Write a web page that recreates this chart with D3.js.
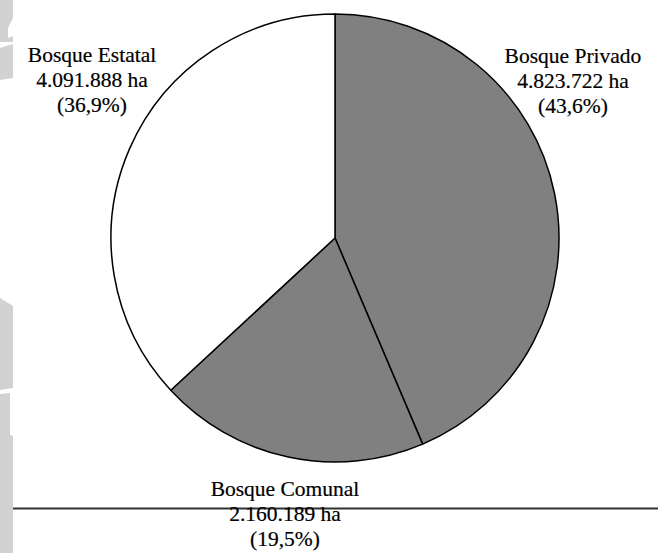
<!DOCTYPE html>
<html>
<head>
<meta charset="utf-8">
<script src="https://cdn.jsdelivr.net/npm/d3@7"></script>
<style>
  body { margin: 0; background: #fff; }
  svg { display: block; }
</style>
</head>
<body>
<div id="chart"></div>
<script>
// data
var categories = ['Bosque Privado', 'Bosque Comunal', 'Bosque Estatal'];
var hectares = ['4.823.722', '2.160.189', '4.091.888'];
var percents = [43.6, 19.5, 36.9];
var fills = ['#808080', '#808080', '#ffffff'];

var width = 658, height = 553;
var cx = 335, cy = 238, r = 224;

var svg = d3.select('#chart').append('svg')
  .attr('width', width)
  .attr('height', height);

// light grey scan marks on the left edge
var marks = [
  [[0,0],[13,0],[13,18],[8,28],[8,38],[13,36],[13,42],[0,42]],
  [[0,48],[13,44],[13,78],[0,80]],
  [[0,298],[13,306],[13,388],[0,390]],
  [[0,394],[10,393],[10,435],[13,436],[13,553],[0,553]]
];
svg.selectAll('polygon.mark')
  .data(marks)
  .enter()
  .append('polygon')
  .attr('class', 'mark')
  .attr('points', function(d){ return d.map(function(p){ return p.join(','); }).join(' '); })
  .attr('fill', '#d2d2d2');

var pie = d3.pie().sort(null).value(function(d){ return d; });
var arc = d3.arc().innerRadius(0).outerRadius(r);

var slices = svg.append('g')
  .attr('transform', 'translate(' + cx + ',' + cy + ')')
  .selectAll('path')
  .data(pie(percents))
  .enter()
  .append('path')
  .attr('d', arc)
  .attr('fill', function(d, i){ return fills[i]; })
  .attr('stroke', '#000')
  .attr('stroke-width', 1.5)
  .attr('stroke-linejoin', 'round');

// horizontal rule near the bottom
svg.append('line')
  .attr('x1', 13).attr('x2', width)
  .attr('y1', 508.5).attr('y2', 508.5)
  .attr('stroke', '#333')
  .attr('stroke-width', 2);

// label positions (centre x, first baseline)
var labelPos = [[573, 63], [285, 496], [92, 62]];

var labels = svg.selectAll('text.label')
  .data(categories)
  .enter()
  .append('text')
  .attr('class', 'label')
  .attr('font-family', '"Liberation Serif", "Times New Roman", serif')
  .attr('font-size', '21.5px')
  .attr('fill', '#000')
  .attr('stroke', '#000')
  .attr('stroke-width', 0.2)
  .attr('text-anchor', 'middle');

labels.each(function(d, i){
  var t = d3.select(this);
  var lines = [d, hectares[i] + ' ha', '(' + String(percents[i]).replace('.', ',') + '%)'];
  lines.forEach(function(s, j){
    t.append('tspan')
      .attr('x', labelPos[i][0])
      .attr('y', labelPos[i][1] + j*25)
      .text(s);
  });
});
</script>
</body>
</html>
